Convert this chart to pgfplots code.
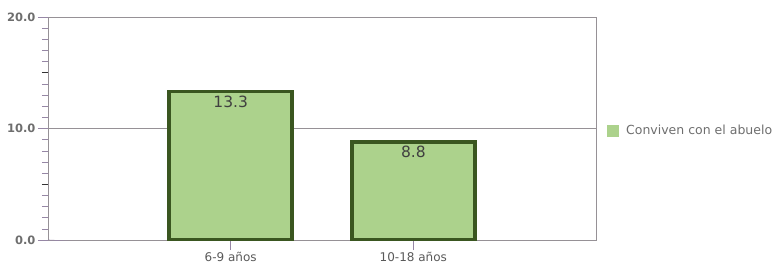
\documentclass[border=0pt]{standalone}
\usepackage{pgfplots}
\pgfplotsset{compat=1.18}
\usepackage{fontspec}
\setmainfont{DejaVu Sans}
\definecolor{barfill}{RGB}{172,210,140}
\definecolor{barline}{RGB}{58,86,32}
\definecolor{axcol}{RGB}{150,135,165}
\definecolor{gridc}{RGB}{150,145,150}
\definecolor{txt}{RGB}{110,110,110}
\begin{document}
\begin{tikzpicture}
\path[use as bounding box] (-48pt,-26pt) rectangle (730pt,17pt+223pt);
\begin{axis}[
  scale only axis,
  width=548pt, height=223pt,
  xmin=-1, xmax=2, ymin=0, ymax=20,
  xtick={0,1}, xticklabels={6-9 años,10-18 años},
  ytick={0,10,20},
  minor y tick num=9,
  extra y ticks={5,15},
  extra y tick style={grid=none, yticklabel=\empty, major tick length=6pt, tick style={black!80, line width=0.9pt}},
  yticklabel style={/pgf/number format/fixed, /pgf/number format/fixed zerofill, /pgf/number format/precision=1, /pgf/number format/assume math mode=true, xshift=1pt},
  ticklabel style={font=\fontsize{11.5}{12}\selectfont\bfseries, text=txt},
  xticklabel style={font=\fontsize{12}{13}\selectfont, text=black!65, yshift=1pt},
  tick align=outside,
  major tick length=10pt,
  minor tick length=6pt,
  tick style={axcol, line width=0.6pt},
  minor tick style={axcol, line width=0.6pt},
  axis line style={gridc, line width=0.7pt},
  ymajorgrids,
  major grid style={gridc, line width=0.7pt},
  xtick pos=bottom, ytick pos=left,
  ybar, bar width=123pt,
  nodes near coords,
  nodes near coords style={/pgf/number format/fixed, /pgf/number format/fixed zerofill, /pgf/number format/precision=1, /pgf/number format/assume math mode=true},
  every node near coord/.append style={anchor=north, yshift=1pt, font=\fontsize{15.5}{16}\selectfont, text=black!75},
  legend style={at={(1.02,0.49)}, anchor=west, draw=none, fill=none, font=\fontsize{12.5}{13}\selectfont, text=txt, legend cell align=left, inner xsep=0pt},
  legend image code/.code={\fill[barfill, draw=none] (0pt,-6pt) rectangle (12pt,6pt); \path[draw=none, fill=none] (0pt,0pt) -- (17pt,0pt);},
]
\addplot[fill=barfill, draw=barline, line width=3.5pt] coordinates {(0,13.3) (1,8.8)};
\addlegendentry{Conviven con el abuelo}
\draw[axcol, line width=0.7pt] (rel axis cs:0,0) -- ++(0,-10pt);
\end{axis}
\end{tikzpicture}
\end{document}
